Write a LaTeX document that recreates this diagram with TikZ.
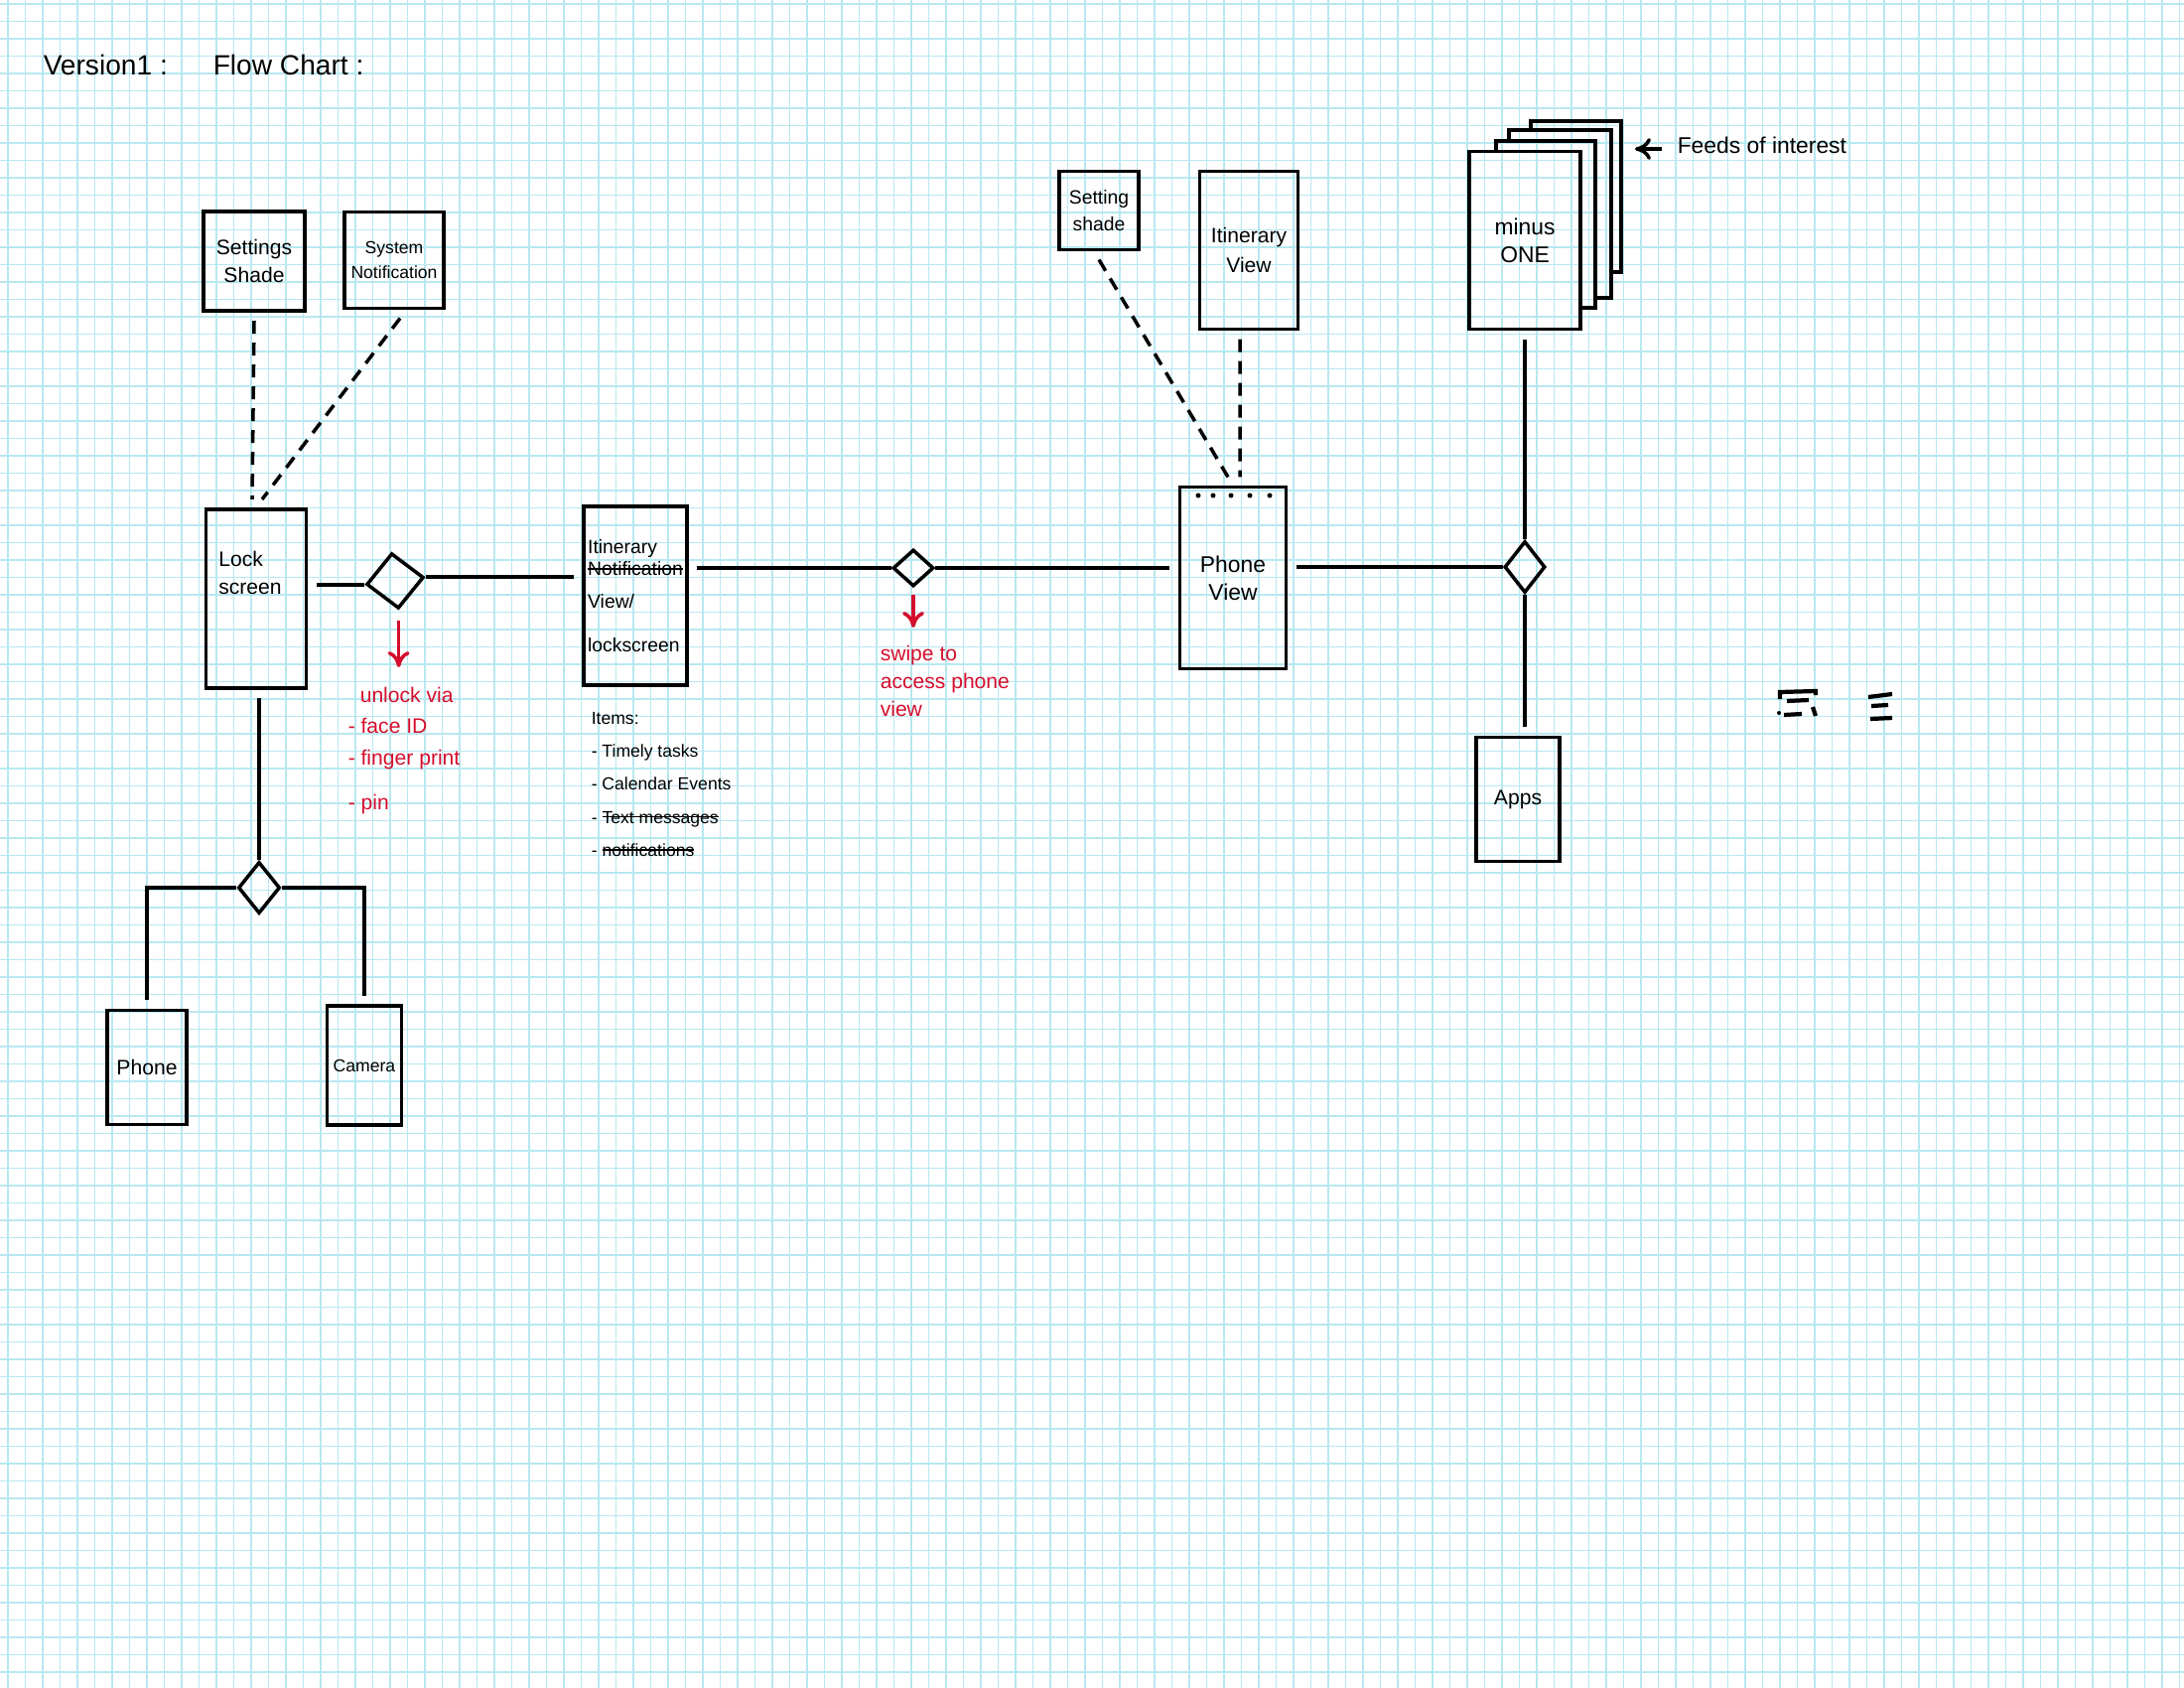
\documentclass[tikz,border=0pt]{standalone}
\usepackage{fontspec}
\setmainfont{Liberation Sans}
\usetikzlibrary{shapes.geometric}
\usetikzlibrary{arrows.meta}
\usetikzlibrary{positioning}

\definecolor{gridblue}{RGB}{184,232,240}
\definecolor{penred}{RGB}{212,14,44}
\newcommand{\penfs}[2]{\fontsize{#1}{#2}\selectfont}
\newcommand{\crossout}[1]{\setbox0\hbox{#1}\rlap{\rule[0.6ex]{\wd0}{0.5pt}}\box0}

\begin{document}
\begin{tikzpicture}[x=0.01cm,y=-0.01cm,line width=1pt,>={To[length=1.6mm,width=2.2mm]},
  screen/.style={draw,inner sep=0pt,outer sep=1mm,align=center,font=\penfs{6}{8}},
  gate/.style={draw,diamond,inner sep=0pt,aspect=1},
  link/.style={dash pattern=on 1.3mm off 0.9mm},
  txt/.style={inner sep=0pt,align=left},
  redtxt/.style={txt,text=penred}]
\useasboundingbox (0,0) rectangle (2200,1700);
\foreach \gx in {8,25.5,...,2200} \draw[gridblue,line width=0.5pt] (\gx,0) -- (\gx,1700);
\foreach \gy in {4,21.5,...,1700} \draw[gridblue,line width=0.5pt] (0,\gy) -- (2200,\gy);

\draw node [txt,anchor=west,font=\penfs{8}{9}] (T1) at (42,65) {Version1 :};
\draw node [txt,anchor=west,font=\penfs{8}{9}] (T2) at (213,65) {Flow Chart :};

\draw node [screen,minimum width=10.2mm,minimum height=10mm] (SS) at (256,263) {Settings\\Shade};
\draw node [screen,minimum width=10mm,minimum height=9.7mm,font=\penfs{5}{7}] (SN) at (397,262) {System\\Notification};
\draw node [screen,minimum width=10.1mm,minimum height=18mm] (LS) at (258,603) {};
\draw node [txt,font=\penfs{6}{8}] [below=5mm of LS.north,xshift=-0.6mm] (LStxt) {Lock\\screen};
\draw node [gate,minimum width=5.8mm,minimum height=5.6mm,rotate=7] (D1) at (398,585) {};
\draw node [screen,minimum width=10.4mm,minimum height=18mm,align=left,font=\penfs{5.5}{6.4}] (IT) at (640,600) {Itinerary\\\crossout{Notification}\\[1mm]View/\\[2.2mm]lockscreen};
\draw node [txt,anchor=north west,font=\penfs{5}{9.4}] (ITM) at (594,716) {Items:\\- Timely tasks\\- Calendar Events\\- \crossout{Text messages}\\- \crossout{notifications}};

\draw node [gate,minimum width=4.1mm,minimum height=3.7mm] (D2) at (920,572) {};
\draw node [screen,minimum width=10.7mm,minimum height=18.3mm,font=\penfs{6.5}{8}] (PV) at (1242,582) {Phone\\View};
\foreach \dx in {1207,1222,1240,1259,1279} \fill (\dx,499) circle (0.25mm);
\draw node [screen,minimum width=8mm,minimum height=7.9mm,font=\penfs{5.5}{7.5}] (SS2) at (1107,212) {Setting\\shade};
\draw node [screen,minimum width=9.9mm,minimum height=15.9mm,font=\penfs{6}{8.5}] (IV) at (1258,252) {Itinerary\\View};

\foreach \pl/\pt/\pr/\pb/\nt/\nr in {1542/122/1633/274/131/1623,1520/131/1623/300/142/1607,1507/142/1607/310/153/1592}
  \draw (\pl,\nt) -- (\pl,\pt) -- (\pr,\pt) -- (\pr,\pb) -- (\nr,\pb);
\draw node [screen,minimum width=11.2mm,minimum height=17.9mm,font=\penfs{6.5}{8}] (MO) at (1536,242) {minus\\ONE};
\draw node [txt,anchor=west,font=\penfs{6.5}{8}] (FI) at (1688,146) {Feeds of interest};
\coordinate (FIarrow) at (1647,150);
\draw [->,shorten <=1.4mm] (FI.west |- FIarrow) -- (FIarrow);
\draw node [gate,minimum width=4.1mm,minimum height=5.2mm] (D3) at (1536,571) {};
\draw node [screen,minimum width=8.4mm,minimum height=12.5mm] (AP) at (1529,805) {Apps};

\draw node [gate,minimum width=4.2mm,minimum height=5.2mm] (D4) at (261,894) {};
\draw node [screen,minimum width=8mm,minimum height=11.5mm] (PH) at (148,1075) {Phone};
\draw node [screen,minimum width=7.5mm,minimum height=12mm,font=\penfs{5}{7}] (CA) at (367,1073) {Camera};

\draw (D1.west) -- (D1.west -| LS.east);
\draw (D1.east) -- (D1.east -| IT.west);
\draw (D2.west) -- (D2.west -| IT.east);
\draw (D2.east) -- (D2.east -| PV.west);
\draw (D3.west) -- (D3.west -| PV.east);
\draw (D3.north) -- (D3.north |- MO.south);
\draw (D3.south) -- (D3.south |- AP.north);
\draw (D4.north) -- (D4.north |- LS.south);
\draw (D4.west) -| (PH.north);
\draw (D4.east) -| (CA.north);

\draw [link] (SS.south) -- ([xshift=-0.4mm]LS.north);
\draw [link] ([xshift=0.6mm]SN.south) -- ([xshift=0.6mm]LS.north);
\draw [link] (SS2.south) -- ([xshift=-0.5mm]PV.north);
\draw [link] ([xshift=-0.9mm]IV.south) -- ([xshift=0.7mm]PV.north);

\draw node [redtxt,anchor=north west,font=\penfs{6}{9}] (UV) at (349,690) {\hspace{1.2mm}unlock via\\- face ID\\- finger print\\[1.3mm]- pin};
\draw [penred,->,shorten <=1mm,shorten >=1.8mm] (D1.south) -- (D1.south |- UV.north);
\draw node [redtxt,anchor=north west,font=\penfs{6}{8}] (SW) at (885,648) {swipe to\\access phone\\view};
\draw [penred,->,shorten <=0.7mm,shorten >=1.6mm] (D2.south) -- (D2.south |- SW.north);

\draw [line width=1.2pt] (1793,704) -- (1793,697) -- (1829,696) -- (1829,700);
\draw [line width=1.2pt] (1800,706) -- (1822,705) (1797,720) -- (1815,719) (1826,712) -- (1829,721);
\fill (1792,718) circle (0.2mm);
\draw [line width=1.2pt] (1882,702) -- (1906,699) (1885,711) -- (1902,710) (1884,724) -- (1906,723);
\end{tikzpicture}
\end{document}
